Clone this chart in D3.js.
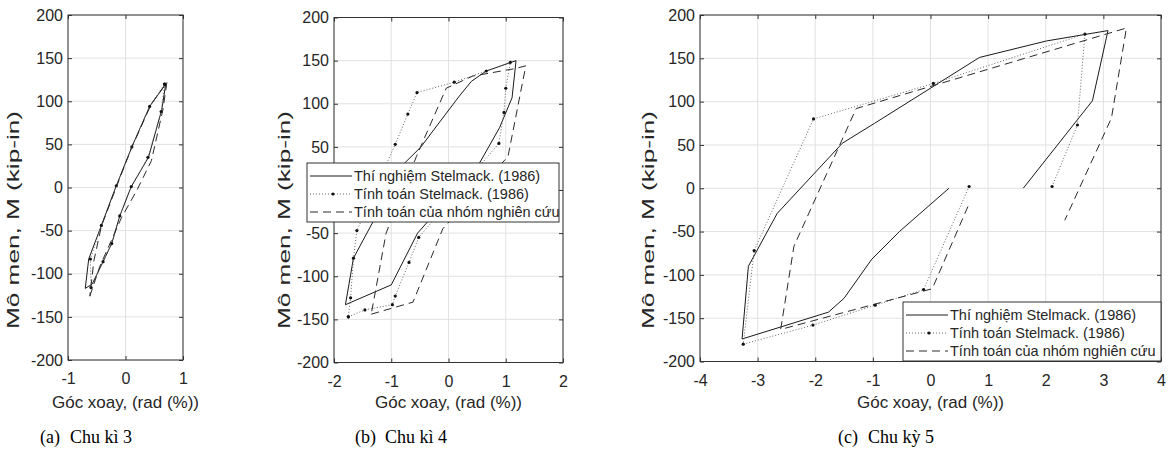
<!DOCTYPE html>
<html>
<head>
<meta charset="utf-8">
<title>Mo men - goc xoay</title>
<script src="https://d3js.org/d3.v7.min.js"></script>
<style>
body{margin:0;background:#fff;}
svg text{font-family:"Liberation Sans",Arial,sans-serif;fill:#262626;}
.tick text{font-size:16px;}
.cap{font-family:"Liberation Serif","Times New Roman",serif;font-size:18px;fill:#000;}
</style>
</head>
<body>
<svg id="chart" width="1174" height="458"></svg>
<script>
// (a) chu ki 3 : [goc xoay, mo men]
var aTest = [[0.70,120],[0.63,90],[0.40,35],[0.10,1],[-0.10,-33],[-0.24,-65],[-0.39,-86],[-0.58,-112],[-0.70,-117],[-0.64,-83],[-0.42,-44],[-0.16,2],[0.11,47],[0.42,94],[0.70,120]];
var aStel = [[0.68,120],[0.62,88],[0.39,35],[0.10,1],[-0.10,-33],[-0.24,-65],[-0.39,-86],[-0.60,-116],[-0.61,-83],[-0.42,-44],[-0.16,2],[0.11,47],[0.42,94],[0.68,120]];
var aOurs = [[-0.62,-126],[-0.45,-92],[-0.07,-35],[0.20,-3],[0.45,31],[0.65,90],[0.72,122],[0.45,97],[0.10,45],[-0.15,2],[-0.42,-45],[-0.55,-85],[-0.62,-126]];

// (b) chu ki 4
var bTest = [[-1.00,-110],[-0.54,-50],[0.54,31],[0.89,72],[1.11,107],[1.18,150],[0.66,138],[0.40,126],[0.19,109],[-0.30,66],[-0.48,50],[-0.77,31],[-1.66,-79],[-1.80,-133],[-1.00,-110]];
var bStel = [[-1.75,-147],[-1.46,-139],[-0.98,-133],[-0.93,-123],[-0.69,-84],[-0.52,-55],[0.88,54],[0.97,90],[1.00,118],[1.08,148],[0.66,138],[0.10,125],[-0.55,113],[-0.71,88],[-0.93,53],[-1.60,-47],[-1.66,-79],[-1.71,-125],[-1.75,-147]];
var bOurs = [[-1.35,-144],[-0.62,-130],[-0.10,-45],[1.04,39],[1.35,144],[1.18,141],[0.42,132],[-0.04,118],[-0.56,39],[-1.09,-50],[-1.35,-144]];

// (c) chu ky 5
var cTest = [[0.32,0],[-0.54,-50],[-1.02,-82],[-1.50,-127],[-1.77,-143],[-3.27,-174],[-3.16,-90],[-2.66,-29],[-1.53,52],[-0.97,75],[0.85,151],[2.01,170],[3.08,182],[2.81,101],[1.61,0]];
var cStel = [[0.67,2],[-0.12,-117],[-0.96,-135],[-2.04,-158],[-3.25,-180],[-3.06,-72],[-2.03,80],[0.05,121],[2.68,178],[2.55,73],[2.11,2]];
var cOurs = [[0.65,-21],[0.03,-116],[-2.60,-163],[-2.37,-67],[-1.29,92],[3.05,178],[3.40,185],[3.14,81],[2.33,-37]];

var yTicks = [-200,-150,-100,-50,0,50,100,150,200];
var xTicksA = [-1,0,1];
var xTicksB = [-2,-1,0,1,2];
var xTicksC = [-4,-3,-2,-1,0,1,2,3,4];

var legendNames = ["Thí nghiệm Stelmack. (1986)", "Tính toán Stelmack. (1986)", "Tính toán của nhóm nghiên cứu"];
var captionTags = ["(a)", "(b)", "(c)"];
var captionTexts = ["Chu kì 3", "Chu kì 4", "Chu kỳ 5"];
var yTitle = "Mô men, M (kip-in)";
var xTitle = "Góc xoay, (rad (%))";

// layout
var panels = [
	{series:[aTest,aStel,aOurs], xDomain:[-1,1], xTicks:xTicksA, left:68, right:183, top:15, bottom:360, yLabelX:13, legend:null, capX:40},
	{series:[bTest,bStel,bOurs], xDomain:[-2,2], xTicks:xTicksB, left:334, right:563, top:17.5, bottom:362.5, yLabelX:284, legend:{x:307,y:163,w:252}, capX:355},
	{series:[cTest,cStel,cOurs], xDomain:[-4,4], xTicks:xTicksC, left:700, right:1161, top:15, bottom:361.5, yLabelX:648, legend:{x:903,y:302,w:258}, capX:838}
];

var styles = [
	{stroke:"#1a1a1a", dash:null, marker:false},
	{stroke:"#666", dash:"1,2", marker:true},
	{stroke:"#2a2a2a", dash:"8,5", marker:false}
];

// plain hyphen for negatives, no decimals
var fmt = function(d){ return String(d); };

var svg = d3.select("#chart");

panels.forEach(function(p, pi){
	var x = d3.scaleLinear().domain(p.xDomain).range([p.left, p.right]);
	var y = d3.scaleLinear().domain([-200, 200]).range([p.bottom, p.top]);
	var g = svg.append("g");

	// grid
	g.selectAll(".vg").data(p.xTicks).enter().append("line")
		.attr("x1", function(d){ return x(d); }).attr("x2", function(d){ return x(d); })
		.attr("y1", p.top).attr("y2", p.bottom)
		.attr("stroke", "#e2e2e2").attr("stroke-width", 1);
	g.selectAll(".hg").data(yTicks).enter().append("line")
		.attr("y1", function(d){ return y(d); }).attr("y2", function(d){ return y(d); })
		.attr("x1", p.left).attr("x2", p.right)
		.attr("stroke", "#e2e2e2").attr("stroke-width", 1);

	// series
	var line = d3.line().x(function(d){ return x(d[0]); }).y(function(d){ return y(d[1]); });
	p.series.forEach(function(s, si){
		var st = styles[si];
		g.append("path").datum(s)
			.attr("d", line)
			.attr("fill", "none")
			.attr("stroke", st.stroke)
			.attr("stroke-width", 1)
			.attr("stroke-dasharray", st.dash);
		if(st.marker){
			g.selectAll(".m" + si).data(s).enter().append("circle")
				.attr("cx", function(d){ return x(d[0]); })
				.attr("cy", function(d){ return y(d[1]); })
				.attr("r", 1.6).attr("fill", "#111");
		}
	});

	// axes (ticks inward, like matlab)
	var ax = g.append("g").attr("transform", "translate(0," + p.bottom + ")")
		.call(d3.axisBottom(x).tickValues(p.xTicks).tickFormat(fmt).tickSize(-4).tickSizeOuter(0).tickPadding(13));
	var ay = g.append("g").attr("transform", "translate(" + p.left + ",0)")
		.call(d3.axisLeft(y).tickValues(yTicks).tickFormat(fmt).tickSize(-4).tickSizeOuter(0).tickPadding(5));
	var at = g.append("g").attr("transform", "translate(0," + p.top + ")")
		.call(d3.axisTop(x).tickValues(p.xTicks).tickSize(-4).tickSizeOuter(0).tickFormat(""));
	var ar = g.append("g").attr("transform", "translate(" + p.right + ",0)")
		.call(d3.axisRight(y).tickValues(yTicks).tickSize(-4).tickSizeOuter(0).tickFormat(""));
	[ax, ay, at, ar].forEach(function(a){
		a.select(".domain").remove();
		a.selectAll(".tick line").attr("stroke", "#333");
		a.selectAll(".tick text").attr("fill", "#262626");
	});
	g.append("rect")
		.attr("x", p.left).attr("y", p.top)
		.attr("width", p.right - p.left).attr("height", p.bottom - p.top)
		.attr("fill", "none").attr("stroke", "#333").attr("stroke-width", 1);

	// titles
	g.append("text")
		.attr("transform", "translate(" + p.yLabelX + ",220) rotate(-90)")
		.attr("text-anchor", "middle").attr("dominant-baseline", "central")
		.attr("textLength", 218).attr("lengthAdjust", "spacingAndGlyphs")
		.style("font-size", "17px")
		.text(yTitle);
	g.append("text")
		.attr("x", (p.left + p.right) / 2).attr("y", 408)
		.attr("text-anchor", "middle")
		.style("font-size", "17px")
		.text(xTitle);

	// legend
	if(p.legend){
		var L = p.legend;
		var lg = g.append("g");
		lg.append("rect").attr("x", L.x).attr("y", L.y).attr("width", L.w).attr("height", 59)
			.attr("fill", "#fff").attr("stroke", "#333").attr("stroke-width", 1);
		legendNames.forEach(function(name, i){
			var yy = L.y + 13 + i * 18;
			var st = styles[i];
			lg.append("line").attr("x1", L.x + 3).attr("x2", L.x + 45).attr("y1", yy).attr("y2", yy)
				.attr("stroke", st.stroke).attr("stroke-width", 1).attr("stroke-dasharray", st.dash);
			if(st.marker){
				lg.append("circle").attr("cx", L.x + 26).attr("cy", yy).attr("r", 1.6).attr("fill", "#111");
			}
			lg.append("text").attr("x", L.x + 47).attr("y", yy)
				.attr("dominant-baseline", "central")
				.style("font-size", "14.5px")
				.text(name);
		});
	}

	// caption
	svg.append("text").attr("class", "cap").attr("x", p.capX).attr("y", 443).text(captionTags[pi]);
	svg.append("text").attr("class", "cap").attr("x", p.capX + 30).attr("y", 443).text(captionTexts[pi]);
});
</script>
</body>
</html>
